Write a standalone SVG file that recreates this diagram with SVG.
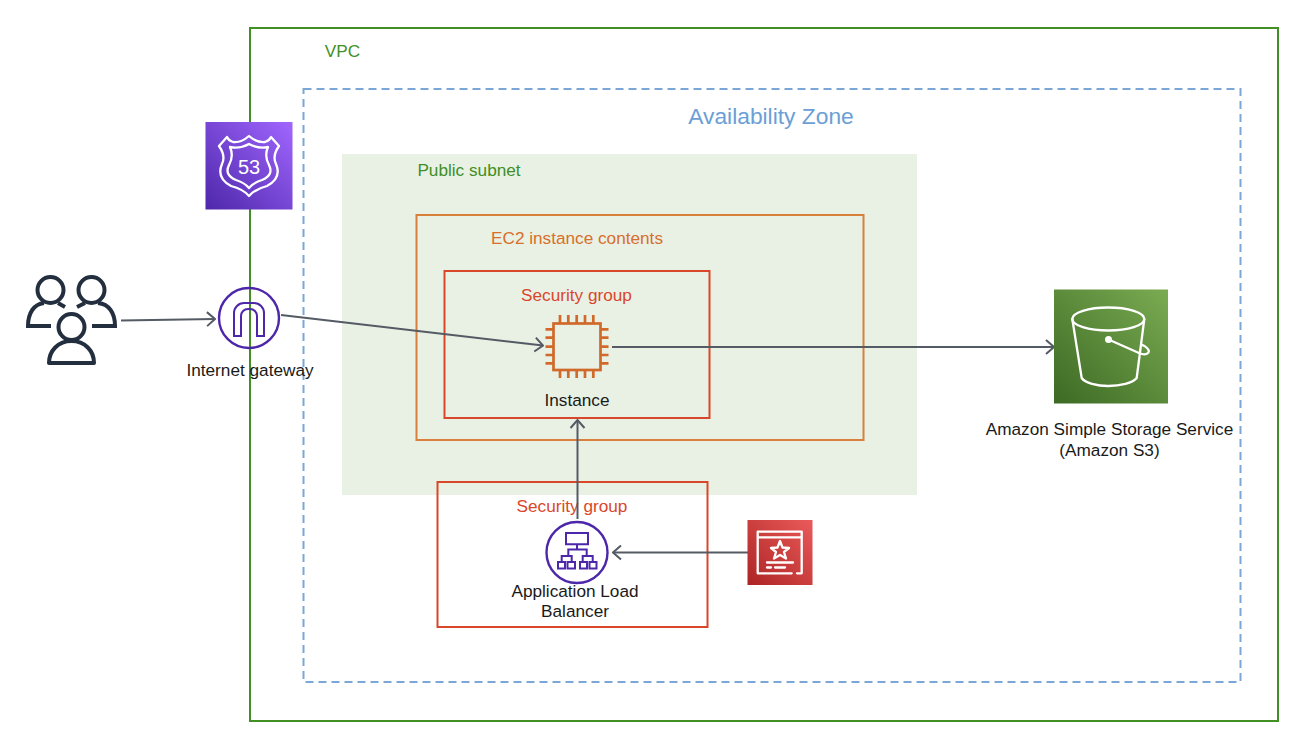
<svg xmlns="http://www.w3.org/2000/svg" width="1308" height="738" viewBox="0 0 1308 738">
<style>
text{font-family:"Liberation Sans",Arial,sans-serif;font-size:17.200px;fill:#1a1a1a;text-anchor:middle}
.conn{fill:none;stroke:#545b64;stroke-width:2;marker-end:url(#arr)}
.box{fill:none;stroke-width:2}
.red{stroke:#d9472b}
.w{fill:none;stroke:#fff;stroke-width:2.300;stroke-linejoin:round;stroke-linecap:round}
.p{fill:none;stroke:#4d27aa;stroke-width:2;stroke-linejoin:miter}
.o{fill:none;stroke:#d0692a;stroke-width:2.700}
.u{fill:none;stroke:#232f3e;stroke-width:4}
</style>
<defs>
<marker id="arr" viewBox="0 0 12 16" refX="11" refY="8" markerWidth="12" markerHeight="16" markerUnits="userSpaceOnUse" orient="auto"><path d="M3 1L11 8L3 15" fill="none" stroke="#545b64" stroke-width="2"/></marker>
<linearGradient id="gP" x1="0" y1="1" x2="1" y2="0"><stop offset="0" stop-color="#4d27aa"/><stop offset="1" stop-color="#a166ff"/></linearGradient>
<linearGradient id="gG2" x1="0" y1="1" x2="1" y2="0"><stop offset="0" stop-color="#3c6a24"/><stop offset="1" stop-color="#7bab52"/></linearGradient>
<linearGradient id="gR" x1="0" y1="1" x2="1" y2="0"><stop offset="0" stop-color="#ad2424"/><stop offset="1" stop-color="#ea5a5a"/></linearGradient>
</defs>
<rect width="1308" height="738" fill="#fff"/>
<g id="vpc"><rect class="box" x="250" y="28" width="1028" height="693" stroke="#428f26"/><text x="342.500" y="57" style="fill:#428f26">VPC</text></g>
<g id="az"><rect class="box" x="303.500" y="89" width="937" height="593" stroke="#7aa7d8" stroke-dasharray="8 5"/><text x="771" y="124" style="fill:#6b9fd6;font-size:22.800px">Availability Zone</text></g>
<g id="subnet"><rect x="342" y="154" width="575" height="341" fill="#e9f1e5"/><text x="469" y="176" style="fill:#3f8f24">Public subnet</text></g>
<g id="ec2"><rect class="box" x="416.500" y="215" width="447" height="225" stroke="#d8803c"/><text x="577" y="244" style="fill:#d86f2a">EC2 instance contents</text></g>
<g id="sg1"><rect class="box red" x="444.500" y="271" width="265" height="147"/><text x="576.500" y="301" style="fill:#d9472b">Security group</text></g>
<g id="sg2"><rect class="box red" x="437.500" y="482" width="270" height="145"/><text x="572" y="512" style="fill:#d9472b">Security group</text></g>
<g id="connectors">
<path class="conn" d="M121 320.500L215 319"/>
<path class="conn" d="M281 315L543 345.500"/>
<path class="conn" d="M612 347H1054"/>
<path class="conn" d="M577.500 519V420"/>
<path class="conn" d="M748 552.500H613"/>
</g>
<g id="users">
<circle class="u" cx="50.500" cy="290" r="13"/><circle class="u" cx="91.500" cy="290" r="13"/><circle class="u" cx="71.500" cy="327" r="13"/>
<path class="u" d="M51 326H28C28 313 34 304 44 303M65 307L58 303M92 326H115C115 313 109 304 98 303M77 307L85 303"/>
<path class="u" d="M49 363C49 351 58 341 71.500 341C85 341 94 351 94 363Z" stroke-linejoin="round"/>
</g>
<g id="route53"><rect x="205.500" y="122" width="87" height="87.500" fill="url(#gP)"/>
<path class="w" d="M249 136Q241 143 233 142Q229 141 227 137L219 146Q226 156 222 164Q216 178 231 186Q243 189 249 196Q255 189 267 186Q282 178 276 164Q272 156 279 146L271 137Q269 141 265 142Q257 143 249 136Z" stroke-width="1.800"/>
<path class="w" d="M249 144Q240 149 230 147Q234 156 229 165Q224 175 236 180Q245 183 249 188Q253 183 262 180Q274 175 269 165Q264 156 268 147Q258 149 249 144Z" stroke-width="1.800"/>
<text x="249" y="173.500" style="fill:#fff;font-size:20px">53</text></g>
<g id="igw"><circle cx="249" cy="318" r="30" fill="none" stroke="#4d27aa" stroke-width="2.400"/>
<path class="p" d="M234 336V313A10 10 0 0 1 244 303H254A10 10 0 0 1 264 313V336H257V316A7 7 0 0 0 250 309H248A7 7 0 0 0 241 316V336Z"/>
<text x="250" y="376">Internet gateway</text></g>
<g id="instance">
<rect class="o" x="553.500" y="323.500" width="47" height="46.500"/>
<path class="o" d="M560 315V323M568.300 315V323M576.700 315V323M585 315V323M593.300 315V323M560 370V378M568.300 370V378M576.700 370V378M585 370V378M593.300 370V378M545.500 329.300H553M545.500 337.700H553M545.500 346.700H553M545.500 355H553M545.500 363.300H553M601 329.300H608.500M601 337.700H608.500M601 346.700H608.500M601 355H608.500M601 363.300H608.500"/>
<text x="577" y="406">Instance</text></g>
<g id="alb"><circle cx="577" cy="552.500" r="30.500" fill="none" stroke="#4d27aa" stroke-width="2.400"/>
<path class="p" d="M566 533H588V544.300H566ZM577 544.300V549.500M568.300 556V549.500H586.700V556M561.700 562V556H571.700V562M582.700 562V556H592.700V562M558 562H565V568.500H558ZM567.500 562H575V568.500H567.500ZM580 562H587V568.500H580ZM589.500 562H596.500V568.500H589.500Z"/>
<text x="575" y="597">Application Load</text><text x="575" y="617">Balancer</text></g>
<g id="cert"><rect x="747.500" y="520" width="65" height="65" fill="url(#gR)"/>
<path class="w" d="M797 573.300H801.700V531.700H757.700V573.300H791.700M757.700 537.300H801.700M767 562.500H793M767 567.500H771M775 567.500H785" stroke-width="1.400"/>
<path class="w" d="M780 541L782.500 547.500L789 548L784 552L786 558.500L780 555L774 558.500L776 552L771 548L777.500 547.500Z" stroke-width="1.400"/></g>
<g id="s3"><rect x="1054" y="289.500" width="114" height="114" fill="url(#gG2)"/>
<ellipse class="w" cx="1108.300" cy="319" rx="36" ry="11.500"/>
<path class="w" d="M1072.300 319L1081.700 378C1085 383 1097 386 1108.300 386C1120 386 1133 383 1136.700 378L1144.300 319"/>
<path class="w" d="M1108.500 339.500L1139 353C1146 356 1150 353 1148.500 350C1147 347 1143 345 1142 345"/>
<circle cx="1108.500" cy="339.500" r="3.500" fill="#fff"/>
<text x="1109.500" y="435">Amazon Simple Storage Service</text><text x="1109.500" y="456">(Amazon S3)</text></g>
</svg>
